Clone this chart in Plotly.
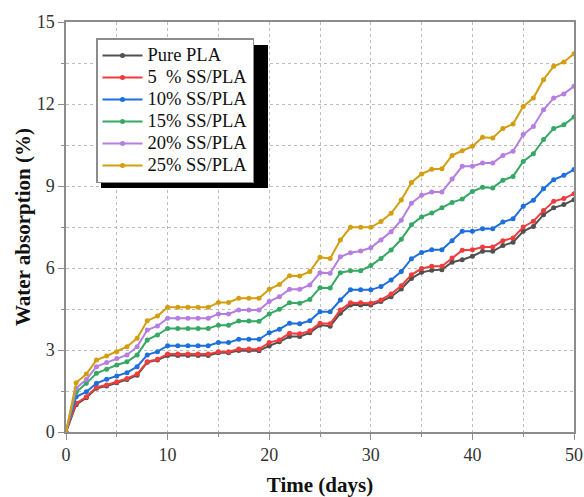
import plotly.graph_objects as go

days = list(range(0, 51))

pure_pla = [0, 1.0, 1.25, 1.6, 1.68, 1.8, 1.92, 2.08, 2.55, 2.63, 2.8, 2.8, 2.8, 2.8, 2.8,
            2.9, 2.9, 2.98, 2.98, 2.97, 3.15, 3.30, 3.49, 3.49, 3.63, 3.91, 3.87, 4.34, 4.65, 4.65,
            4.65, 4.77, 4.95, 5.23, 5.62, 5.84, 5.92, 5.94, 6.21, 6.3, 6.43, 6.61, 6.61, 6.82, 6.94,
            7.34, 7.52, 7.95, 8.2, 8.32, 8.5]
ss5 = [0, 1.05, 1.29, 1.64, 1.72, 1.84, 1.96, 2.12, 2.57, 2.66, 2.85, 2.85, 2.85, 2.85, 2.85,
       2.94, 2.94, 3.04, 3.04, 3.03, 3.27, 3.37, 3.61, 3.59, 3.70, 3.98, 3.96, 4.46, 4.73, 4.73,
       4.71, 4.83, 5.05, 5.35, 5.75, 5.98, 6.06, 6.06, 6.37, 6.65, 6.67, 6.77, 6.77, 7.0, 7.1,
       7.5, 7.71, 8.1, 8.44, 8.54, 8.72]
ss10 = [0, 1.29, 1.47, 1.78, 1.93, 2.05, 2.17, 2.39, 2.82, 2.94, 3.16, 3.16, 3.16, 3.16, 3.16,
        3.27, 3.27, 3.39, 3.39, 3.39, 3.63, 3.76, 3.98, 3.96, 4.07, 4.40, 4.40, 4.83, 5.20, 5.20,
        5.20, 5.32, 5.56, 5.87, 6.34, 6.57, 6.67, 6.67, 7.0, 7.34, 7.34, 7.44, 7.44, 7.68, 7.8,
        8.26, 8.48, 8.9, 9.23, 9.39, 9.6]
ss15 = [0, 1.45, 1.78, 2.15, 2.3, 2.45, 2.57, 2.82, 3.37, 3.55, 3.79, 3.79, 3.79, 3.79, 3.79,
        3.91, 3.91, 4.06, 4.06, 4.05, 4.32, 4.49, 4.73, 4.71, 4.85, 5.28, 5.27, 5.83, 5.90, 5.90,
        6.09, 6.35, 6.66, 7.05, 7.58, 7.87, 8.01, 8.2, 8.4, 8.52, 8.8, 8.95, 8.93, 9.21, 9.35,
        9.9, 10.18, 10.7, 11.1, 11.24, 11.52]
ss20 = [0, 1.6, 1.92, 2.39, 2.54, 2.69, 2.82, 3.12, 3.73, 3.88, 4.16, 4.16, 4.16, 4.16, 4.16,
        4.32, 4.32, 4.46, 4.46, 4.46, 4.77, 4.95, 5.22, 5.22, 5.38, 5.83, 5.81, 6.41, 6.56, 6.62,
        6.74, 7.02, 7.33, 7.75, 8.37, 8.66, 8.78, 8.78, 9.26, 9.72, 9.72, 9.84, 9.84, 10.12, 10.27,
        10.88, 11.18, 11.79, 12.22, 12.37, 12.65]
ss25 = [0, 1.8, 2.12, 2.63, 2.78, 2.94, 3.12, 3.43, 4.07, 4.24, 4.56, 4.56, 4.56, 4.56, 4.56,
        4.74, 4.74, 4.89, 4.89, 4.89, 5.22, 5.40, 5.72, 5.71, 5.87, 6.39, 6.35, 7.02, 7.49, 7.49,
        7.49, 7.70, 8.0, 8.49, 9.13, 9.44, 9.61, 9.63, 10.12, 10.29, 10.45, 10.78, 10.76, 11.1, 11.27,
        11.91, 12.22, 12.89, 13.38, 13.54, 13.84]

series_names = ["Pure PLA", "5\u00a0 % SS/PLA", "10% SS/PLA", "15% SS/PLA", "20% SS/PLA", "25% SS/PLA"]
series_values = [pure_pla, ss5, ss10, ss15, ss20, ss25]
colors = ["#505050", "#f03c3c", "#1c6fdc", "#35a864", "#b57ee0", "#d39e10"]

x_ticks = [0, 10, 20, 30, 40, 50]
y_ticks = [0, 3, 6, 9, 12, 15]

fig = go.Figure()
for name, vals, col in zip(series_names, series_values, colors):
    fig.add_trace(go.Scatter(
        x=days, y=vals, name='<span style="font-size:18.5px">' + name + '</span>',
        mode="lines+markers",
        line=dict(color=col, width=2),
        marker=dict(color=col, size=5),
    ))

serif = "Liberation Serif, Times New Roman, serif"
axis_common = dict(
    showline=True, linecolor="#8c8c8c", linewidth=1.5, mirror=True,
    showgrid=False, zeroline=False, automargin=False,
    ticks="outside", ticklen=6, tickcolor="#8c8c8c", tickwidth=1.2,
    tickfont=dict(family=serif, size=18, color="#333333"),
    ticklabeloverflow="allow",
)

fig.update_xaxes(
    range=[0, 50], tickvals=x_ticks,
    minor=dict(dtick=5, tick0=0, showgrid=True, gridcolor="#bdbdbd", griddash="dot",
               gridwidth=1, ticks="outside", ticklen=3, tickcolor="#8c8c8c"),
    title=dict(text="<b>Time (days)</b>", font=dict(family=serif, size=21, color="#111111"), standoff=20),
    **axis_common,
)
fig.update_yaxes(
    range=[0, 15], tickvals=y_ticks,
    minor=dict(dtick=1.5, tick0=0, showgrid=True, gridcolor="#bdbdbd", griddash="dot",
               gridwidth=1, ticks="outside", ticklen=3, tickcolor="#8c8c8c"),
    title=dict(text="<b>Water absorption (%)</b>", font=dict(family=serif, size=21, color="#111111"), standoff=0),
    **axis_common,
)

L, R, T, B = 66, 10, 22, 65
W = 584 - L - R
H = 497 - T - B
bottom = T + H

# legend drop shadow
fig.add_shape(type="rect", xref="paper", yref="paper",
              x0=(101 - L) / W, x1=(268 - L) / W,
              y0=(bottom - 188) / H, y1=(bottom - 45) / H,
              fillcolor="black", line=dict(width=0), layer="above")

fig.update_layout(
    width=584, height=497,
    margin=dict(l=L, r=R, t=T, b=B),
    plot_bgcolor="white", paper_bgcolor="white",
    showlegend=True,
    legend=dict(
        x=(96 - L) / W, y=(bottom - 38) / H, xanchor="left", yanchor="top",
        bgcolor="white", bordercolor="#8c8c8c", borderwidth=1.5,
        font=dict(family=serif, size=14.6, color="#111111"),
        tracegroupgap=0, itemwidth=40,
    ),
)

fig.write_html(
    "out.html",
    config={"displayModeBar": False},
    post_script="document.body.style.margin='0';document.body.style.overflow='hidden';",
)
